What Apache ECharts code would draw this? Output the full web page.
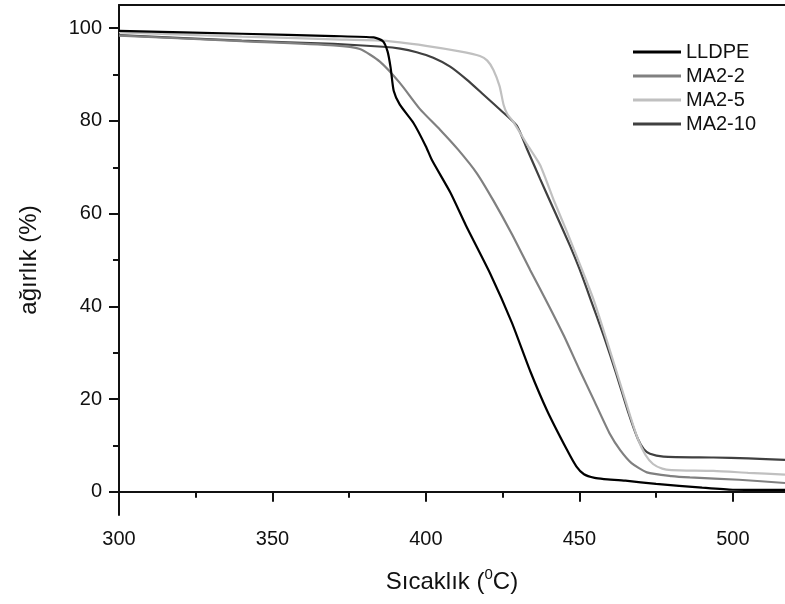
<!DOCTYPE html>
<html>
<head>
<meta charset="utf-8">
<script src="https://cdn.jsdelivr.net/npm/echarts@6/dist/echarts.min.js"></script>
<style>
  html, body { margin: 0; padding: 0; background: #fff; }
  #chart { width: 785px; height: 604px; }
</style>
</head>
<body>
<div id="chart"></div>
<script>
// TGA curves: weight (%) versus temperature (°C)
const seriesNames = ['LLDPE', 'MA2-2', 'MA2-5', 'MA2-10'];
const seriesColors = ['#000000', '#808080', '#c0c0c0', '#404040'];

const lldpeT = [300, 340, 370, 383, 386, 387.5, 388.5, 389.5, 391.5, 396, 400, 402, 408, 413, 421, 428, 434, 439.5, 446, 449, 451.5, 455, 458, 465, 475, 490, 500, 517];
const lldpeW = [99.4, 98.8, 98.3, 98.0, 97.2, 95, 91.5, 86.5, 83.5, 79.5, 74.5, 71.5, 64.5, 57.5, 47, 36.5, 26, 17.5, 9, 5.5, 3.8, 3.0, 2.75, 2.4, 1.7, 0.9, 0.45, 0.4];

const ma22T = [300, 340, 370, 378.5, 385, 391.5, 398, 404.6, 410.5, 416.6, 422, 428, 434, 440, 445, 450, 455, 460, 463.3, 467, 472, 480, 486, 502, 517];
const ma22W = [98.4, 97.2, 96.3, 95.5, 92.8, 88.2, 82.6, 78.1, 73.8, 68.7, 62.8, 55.6, 47.8, 40.2, 33.6, 26.4, 19.4, 12.4, 9, 6.2, 4.2, 3.4, 3.1, 2.6, 1.9];

const ma25T = [300, 340, 370, 386, 400, 411, 417.6, 420, 422, 424, 425.3, 426.5, 428.5, 432.9, 437.2, 441.6, 446, 450.2, 454.6, 459, 463, 466.5, 469, 471.5, 474, 477, 480, 493.7, 505, 517];
const ma25W = [99.1, 98.2, 97.6, 97.3, 96.2, 95, 94, 93, 91, 87.5, 83.5, 81.5, 79.8, 75, 70.5, 63, 56, 49, 41.5, 32.5, 24, 16.5, 11.5, 8, 6, 5, 4.7, 4.5, 4.1, 3.7];

const ma210T = [300, 340, 370, 386, 391.6, 397, 402.4, 407.9, 413.3, 418.7, 424.2, 429.6, 432.9, 437.2, 441.6, 447, 450.2, 453.5, 458, 462, 466, 469, 471, 473, 477.4, 493.7, 505, 517];
const ma210W = [98.5, 97.3, 96.6, 96, 95.6, 94.8, 93.6, 91.7, 88.9, 85.7, 82.4, 79, 74, 67.5, 61, 53, 47.8, 41.8, 33.5, 25.5, 17, 11.5, 9.2, 8.2, 7.6, 7.4, 7.2, 6.9];

// Axis ticks and labels
const xMajor = [300, 350, 400, 450, 500];
const xMinor = [325, 375, 425, 475];
const yMajor = [0, 20, 40, 60, 80, 100];
const yMinor = [10, 30, 50, 70, 90];

const temps = [lldpeT, ma22T, ma25T, ma210T];
const weights = [lldpeW, ma22W, ma25W, ma210W];

const zip = (xs, ys) => xs.map((x, i) => [x, ys[i]]);

const FONT = '"Liberation Sans", Arial, sans-serif';
const INK = '#111';

const chart = echarts.init(document.getElementById('chart'), null, { renderer: 'canvas' });

const axisLineStyle = { color: INK, width: 2 };

chart.setOption({
  animation: false,
  backgroundColor: '#fff',
  textStyle: { fontFamily: FONT, color: INK },
  grid: { left: 119, right: 0, top: 5, bottom: 89, containLabel: false },
  legend: {
    orient: 'vertical',
    left: 633,
    top: 42,
    padding: 0,
    icon: 'rect',
    itemWidth: 48,
    itemHeight: 3,
    itemGap: 4,
    data: seriesNames,
    textStyle: { fontFamily: FONT, fontSize: 20, color: INK, lineHeight: 20 }
  },
  xAxis: [
    {
      type: 'value', min: 300, max: 517, position: 'bottom',
      axisLine: { lineStyle: axisLineStyle },
      axisTick: { show: true, inside: false, length: 10, lineStyle: axisLineStyle, customValues: xMajor },
      axisLabel: { customValues: xMajor, margin: 14, fontSize: 20, color: INK, fontFamily: FONT },
      splitLine: { show: false },
      name: '{a|Sıcaklık (}{sup|0}{a|C)}',
      nameLocation: 'middle',
      nameGap: 52,
      nameTextStyle: {
        rich: {
          a: { fontSize: 24, fontFamily: FONT, color: INK, lineHeight: 30 },
          sup: { fontSize: 15, fontFamily: FONT, color: INK, lineHeight: 15, verticalAlign: 'top' }
        }
      }
    },
    {
      // minor ticks along the bottom
      type: 'value', min: 300, max: 517, position: 'bottom',
      axisLine: { show: false },
      axisTick: { show: true, inside: false, length: 6, lineStyle: axisLineStyle, customValues: xMinor },
      axisLabel: { show: false, customValues: xMinor },
      splitLine: { show: false }
    },
    {
      // frame line along the top
      type: 'value', min: 300, max: 517, position: 'top',
      axisLine: { show: true, lineStyle: axisLineStyle },
      axisTick: { show: false },
      axisLabel: { show: false },
      splitLine: { show: false }
    }
  ],
  yAxis: [
    {
      type: 'value', min: -5, max: 105, position: 'left',
      axisLine: { show: true, lineStyle: axisLineStyle },
      axisTick: { show: true, inside: false, length: 10, lineStyle: axisLineStyle, customValues: yMajor },
      axisLabel: { customValues: yMajor, margin: 17, fontSize: 20, color: INK, fontFamily: FONT },
      splitLine: { show: false },
      name: 'ağırlık (%)',
      nameLocation: 'middle',
      nameGap: 78,
      nameTextStyle: { fontSize: 24, fontFamily: FONT, color: INK }
    },
    {
      // minor ticks along the left
      type: 'value', min: -5, max: 105, position: 'left',
      axisLine: { show: false },
      axisTick: { show: true, inside: false, length: 6, lineStyle: axisLineStyle, customValues: yMinor },
      axisLabel: { show: false, customValues: yMinor },
      splitLine: { show: false }
    }
  ],
  series: seriesNames.map((name, i) => ({
    name: name,
    type: 'line',
    xAxisIndex: 0,
    yAxisIndex: 0,
    data: zip(temps[i], weights[i]),
    symbol: 'none',
    smooth: 0.2,
    z: 10 - i,
    lineStyle: { color: seriesColors[i], width: 2.2 },
    itemStyle: { color: seriesColors[i] }
  }))
});
</script>
</body>
</html>
